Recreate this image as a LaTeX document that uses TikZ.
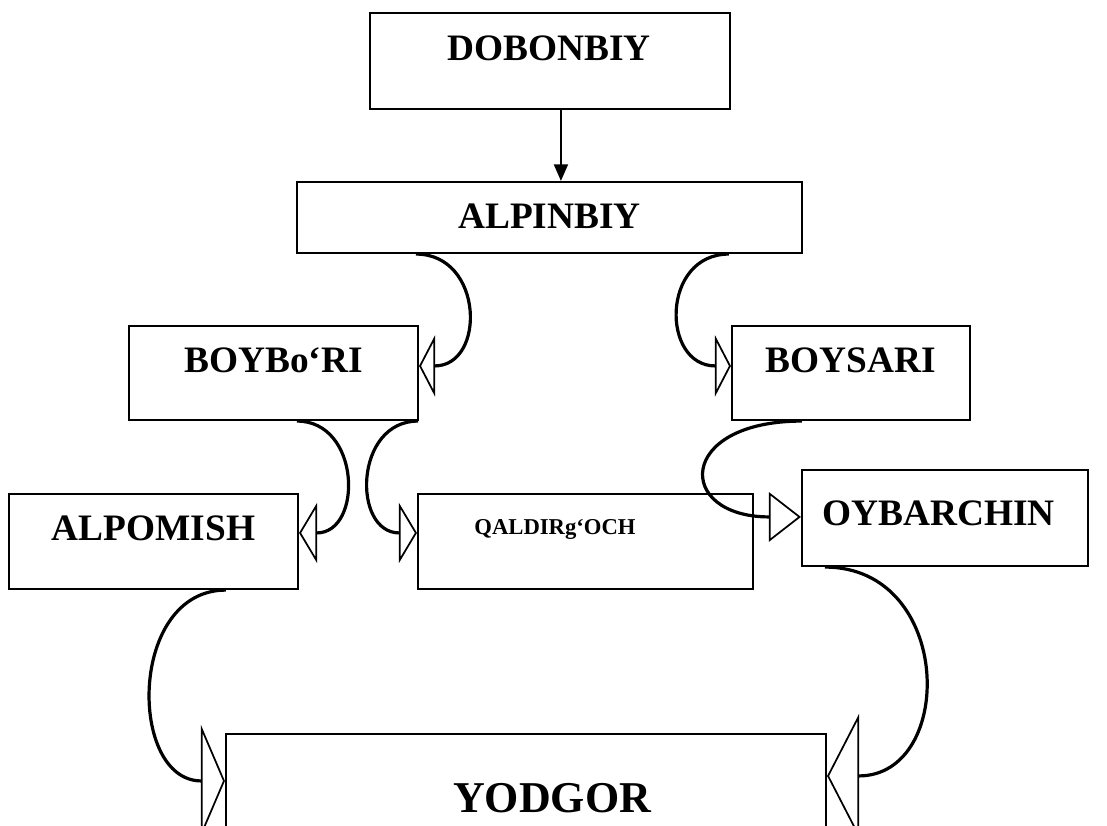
\documentclass[tikz,border=0pt]{standalone}
\usepackage{fontspec}
\setmainfont{Liberation Serif}
\usetikzlibrary{arrows.meta,fit,calc}
\begin{document}
\begin{tikzpicture}[x=0.75pt,y=-0.75pt,
  box/.style={draw,line width=1.6pt,inner sep=0pt},
  lbl/.style={font=\bfseries\fontsize{28}{30}\selectfont,inner sep=0pt,anchor=base},
  link/.style={line width=2.4pt},
  ot/.style n args={2}{-{Triangle[open,length=#1,width=#2,line width=1.3pt]}}
]
\useasboundingbox (0,0) rectangle (1107,825);
\clip (0,0) rectangle (1107,825);

% boxes
\node[box,fit={(370,13) (730,109)}] (dob) {};
\node[box,fit={(297,182) (802,253)}] (alp) {};
\node[box,fit={(129,326) (418,420)}] (boyb) {};
\node[box,fit={(732,326) (970,420)}] (boys) {};
\node[box,fit={(9,494) (298,589)}] (alpm) {};
\node[box,fit={(418,494) (753,589)}] (qal) {};
\node[box,fit={(802,470) (1088,566)}] (oyb) {};
\node[box,fit={(226,734) (826,900)}] (yod) {};

% labels
\node[lbl] (dobt) at (549,60) {DOBONBIY};
\node[lbl] (alpt) at (549.5,228) {ALPINBIY};
\node[lbl] (boybt) at (273.5,372) {BOYBo‘RI};
\node[lbl] (boyst) at (851,372) {BOYSARI};
\node[lbl] (alpmt) at (153.5,540) {ALPOMISH};
\node[lbl,font=\bfseries\fontsize{17}{19}\selectfont] (qalt) at (555,534) {QALDIRg‘OCH};
\node[lbl,anchor=base west] (oybt) at (822,525) {OYBARCHIN};
\node[lbl,font=\bfseries\fontsize{33}{35}\selectfont] (yodt) at (552,812) {YODGOR};

% straight arrow
\draw[line width=1.6pt,-{Triangle[length=12.5pt,width=10.5pt]}]
  ($(dob.south west)+(192,0)$) -- ($(alp.north west)+(265,0)$);

% curved connectors
\draw[link,ot={12pt}{46pt}] ($(alp.south west)+(120,0)$)
  .. controls +(68,0) and +(67,0) .. ($(boyb.north east)+(0,41)$);
\draw[link,ot={12pt}{46pt}] ($(alp.south west)+(433,0)$)
  .. controls +(-68,0) and +(-70,0) .. ($(boys.north west)+(0,41)$);
\draw[link,ot={13.5pt}{45pt}] ($(boyb.south west)+(169,0)$)
  .. controls +(64,0) and +(64,0) .. ($(alpm.north east)+(0,40)$);
\draw[link,ot={13.5pt}{45pt}] ($(boyb.south east)+(-1,0)$)
  .. controls +(-64,0) and +(-65,0) .. ($(qal.north west)+(0,40)$);
\draw[link,ot={24pt}{37pt}] ($(boys.south west)+(71,0)$)
  .. controls +(-126,0) and +(-126,0) .. ($(oyb.north west)+(0,48)$);
\draw[link,ot={18pt}{84pt}] ($(alpm.south west)+(218,0)$)
  .. controls +(-98,0) and +(-97,0) .. ($(yod.north west)+(0,48)$);
\draw[link,ot={24pt}{93pt}] ($(oyb.south west)+(24,0)$)
  .. controls +(129,0) and +(129,0) .. ($(yod.north east)+(0,43)$);
\end{tikzpicture}
\end{document}
